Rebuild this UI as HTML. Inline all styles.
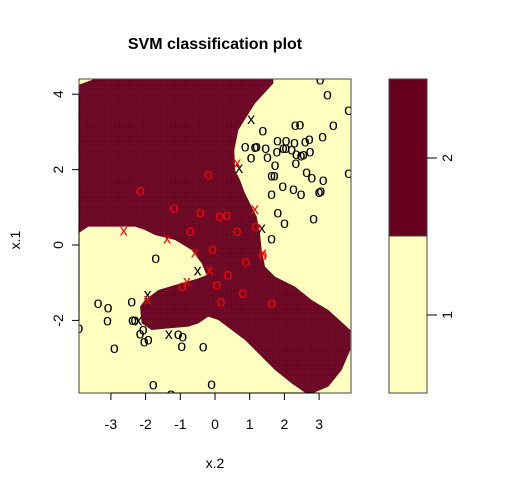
<!DOCTYPE html>
<html><head><meta charset="utf-8"><style>
html,body{margin:0;padding:0;background:#fff;}
svg{display:block;font-family:"Liberation Sans",sans-serif;}
</style></head><body>
<svg id="chart" width="506" height="492" viewBox="0 0 506 492" xmlns="http://www.w3.org/2000/svg">
<defs>
<pattern id="grid" width="5.6" height="5.6" patternUnits="userSpaceOnUse" x="79" y="79">
<path d="M0 0H5.6M0 0V5.6" stroke="#d8a8a8" stroke-width="0.5" fill="none" opacity="0.6"/>
</pattern>
<clipPath id="plotclip"><rect x="79" y="79" width="272" height="314"/></clipPath>
</defs>
<text x="215" y="49" text-anchor="middle" font-size="16" font-weight="bold">SVM classification plot</text>
<g clip-path="url(#plotclip)">
<rect x="79" y="79" width="272" height="314" fill="#FFFFBF"/>
<path transform="translate(75,70) scale(0.33333)" fill="#67001F" d="M10,45 L55,28 L595,28 L595,40 L540,100 L490,180 L478,240 L480,300 L495,330 L510,370 L530,410 L545,440 L555,490 L560,540 L570,590 L600,620 L660,650 L710,690 L760,720 L826,780 L826,840 L800,900 L760,950 L700,975 L650,940 L600,900 L550,850 L510,810 L470,780 L430,750 L400,740 L370,760 L340,770 L280,775 L230,780 L200,760 L195,710 L210,690 L250,660 L300,645 L370,625 L395,615 L380,580 L350,540 L300,510 L240,495 L210,480 L180,470 L90,470 L40,470 L10,490 Z"/>
<path transform="translate(75,70) scale(0.33333)" fill="url(#grid)" d="M10,45 L55,28 L595,28 L595,40 L540,100 L490,180 L478,240 L480,300 L495,330 L510,370 L530,410 L545,440 L555,490 L560,540 L570,590 L600,620 L660,650 L710,690 L760,720 L826,780 L826,840 L800,900 L760,950 L700,975 L650,940 L600,900 L550,850 L510,810 L470,780 L430,750 L400,740 L370,760 L340,770 L280,775 L230,780 L200,760 L195,710 L210,690 L250,660 L300,645 L370,625 L395,615 L380,580 L350,540 L300,510 L240,495 L210,480 L180,470 L90,470 L40,470 L10,490 Z"/>
<g id="points"></g>
</g>
<rect x="79" y="79" width="272" height="314" fill="none" stroke="#444" stroke-width="1"/>
<g id="xaxis"></g>
<g id="yaxis"></g>
<text x="215" y="468" text-anchor="middle" font-size="14">x.2</text>
<text transform="translate(20,240) rotate(-90)" text-anchor="middle" font-size="14">x.1</text>
<g>
<rect x="389" y="79" width="38" height="157" fill="#67001F"/>
<rect x="389" y="236" width="38" height="157" fill="#FFFFBF"/>
<rect x="389" y="79" width="38" height="314" fill="none" stroke="#444"/>
<line x1="389" y1="236" x2="427" y2="236" stroke="#444"/>
<line x1="427" y1="158" x2="437" y2="158" stroke="#000"/>
<line x1="427" y1="315" x2="437" y2="315" stroke="#000"/>
<text transform="translate(452,158) rotate(-90)" text-anchor="middle" font-size="14">2</text>
<text transform="translate(452,315) rotate(-90)" text-anchor="middle" font-size="14">1</text>
</g>
</svg>
<script>
const xTicks = [-3,-2,-1,0,1,2,3];
const yTicks = [-2,0,2,4];
const blackOX = [3.03,3.24,3.85,1.38,2.31,2.45,3.41,1.80,2.05,2.29,2.60,2.72,3.10,0.87,1.15,1.20,1.46,1.78,1.97,2.04,2.21,2.34,2.48,2.55,2.74,1.04,1.51,1.73,2.33,1.63,1.71,2.64,2.79,3.12,3.85,1.95,2.26,1.63,2.48,3.00,3.05,1.81,2.00,2.84,1.63,-1.71,-3.37,-3.08,-2.40,-3.10,-2.38,-2.31,-2.07,-2.16,-1.92,-2.04,-1.06,-0.93,-0.96,-0.34,-2.90,-3.92,-1.78,-0.10,-1.27];
const blackOY = [4.40,4.00,3.60,3.05,3.19,3.21,3.19,2.79,2.79,2.73,2.76,2.83,2.89,2.63,2.61,2.63,2.59,2.50,2.58,2.59,2.55,2.43,2.39,2.41,2.50,2.33,2.35,2.14,2.19,1.86,1.86,1.95,1.81,1.74,1.92,1.58,1.50,1.37,1.37,1.42,1.44,0.87,0.60,0.71,0.18,-0.33,-1.52,-1.65,-1.49,-1.99,-1.97,-1.97,-2.23,-2.33,-2.49,-2.55,-2.35,-2.41,-2.67,-2.68,-2.72,-2.19,-3.69,-3.67,-3.94];
const blackXX = [1.04,0.70,1.35,-0.50,-1.94,-2.21,-1.33];
const blackXY = [3.36,2.06,0.47,-0.66,-1.30,-1.99,-2.35];
const redOX = [-0.19,-2.15,-1.18,-0.42,0.13,0.34,-0.71,0.64,1.18,-0.07,0.88,1.38,0.37,0.05,-0.94,0.80,0.17,1.63];
const redOY = [1.88,1.46,1.00,0.87,0.78,0.81,0.38,0.38,0.50,-0.09,-0.42,-0.25,-0.77,-1.04,-1.08,-1.26,-1.49,-1.52];
const redXX = [0.64,1.15,-2.63,-1.38,-0.58,1.38,-0.15,-0.81,-1.94];
const redXY = [2.19,0.97,0.40,0.19,-0.18,-0.20,-0.65,-0.95,-1.43];

const NS = "http://www.w3.org/2000/svg";
function sx(v){ return 215 + v*34.7; }
function sy(v){ return 245 - v*37.7; }
function mk(tag, attrs, parent){ const e=document.createElementNS(NS,tag); for(const k in attrs) e.setAttribute(k,attrs[k]); parent.appendChild(e); return e; }

const pts = document.getElementById('points');
function drawPts(xs, ys, ch, color, name){
  for(let i=0;i<xs.length;i++){
    const t = mk('text',{x:sx(xs[i]),y:sy(ys[i])+5.5,'text-anchor':'middle','font-size':'16',fill:color},pts);
    
    
    t.textContent = ch;
  }
}
drawPts(blackOX, blackOY, 'o', '#000', 'data-point');
drawPts(blackXX, blackXY, 'x', '#000', 'support-vector');
drawPts(redOX, redOY, 'o', '#f00', 'data-point');
drawPts(redXX, redXY, 'x', '#f00', 'support-vector');

const xa = document.getElementById('xaxis');
mk('line',{x1:sx(xTicks[0]),y1:393,x2:sx(xTicks[xTicks.length-1]),y2:393,stroke:'#000'},xa);
xTicks.forEach(v=>{
  mk('line',{x1:sx(v),y1:393,x2:sx(v),y2:400,stroke:'#000'},xa);
  const t = mk('text',{x:sx(v),y:429,'text-anchor':'middle','font-size':'14'},xa);
  
  
  t.textContent = v;
});
const ya = document.getElementById('yaxis');
mk('line',{x1:79,y1:sy(yTicks[0]),x2:79,y2:sy(yTicks[yTicks.length-1]),stroke:'#000'},ya);
yTicks.forEach(v=>{
  mk('line',{x1:72,y1:sy(v),x2:79,y2:sy(v),stroke:'#000'},ya);
  const t = mk('text',{transform:`translate(63,${sy(v)}) rotate(-90)`,'text-anchor':'middle','font-size':'14'},ya);
  
  
  t.textContent = v;
});
</script>
</body></html>
